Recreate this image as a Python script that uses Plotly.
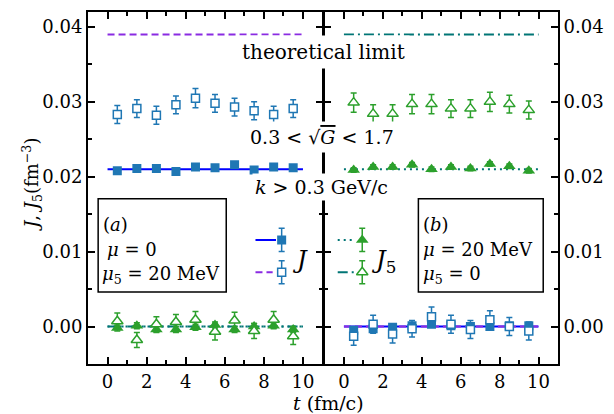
import plotly.graph_objects as go

# ---------------- data ----------------
t = [0.5, 1.5, 2.5, 3.5, 4.5, 5.5, 6.5, 7.5, 8.5, 9.5]
t_line = [0, 10]

# panel (a): mu = 0, mu5 = 20 MeV
J_open_a = [0.0283, 0.0291, 0.0282, 0.0296, 0.0305, 0.0298, 0.0293, 0.0288, 0.0283, 0.0291]
J_open_a_err = [0.0012, 0.0012, 0.0012, 0.0012, 0.0013, 0.0012, 0.0012, 0.0012, 0.0011, 0.0012]
J_fill_a = [0.0208, 0.0211, 0.0211, 0.0207, 0.0213, 0.0212, 0.0216, 0.0209, 0.0213, 0.0212]
J_fill_a_err = [0.0003] * 10
J5_open_a = [0.0007, -0.0018, 0.0003, 0.0006, 0.0009, -0.0007, 0.0008, -0.0006, 0.0009, -0.0013]
J5_open_a_err = [0.0011, 0.0010, 0.0010, 0.0010, 0.0011, 0.0011, 0.0011, 0.0010, 0.0011, 0.0011]
J5_fill_a = [-0.0002, 0.0001, -0.0004, -0.0004, -0.0001, 0.0002, -0.0004, 0.0000, 0.0001, -0.0004]
J5_fill_a_err = [0.0004] * 10

# panel (b): mu = 20 MeV, mu5 = 0
J5_open_b = [0.0299, 0.0284, 0.0284, 0.0297, 0.0297, 0.0291, 0.0291, 0.0300, 0.0297, 0.0289]
J5_open_b_err = [0.0013, 0.0012, 0.0012, 0.0013, 0.0013, 0.0012, 0.0012, 0.0013, 0.0012, 0.0012]
J5_fill_b = [0.0209, 0.0213, 0.0213, 0.0216, 0.0210, 0.0213, 0.0211, 0.0217, 0.0214, 0.0208]
J5_fill_b_err = [0.0003] * 10
J_open_b = [-0.0013, 0.0003, -0.0010, -0.0003, 0.0013, 0.0003, -0.0004, 0.0009, 0.0000, -0.0006]
J_open_b_err = [0.0012, 0.0012, 0.0012, 0.0011, 0.0013, 0.0012, 0.0012, 0.0012, 0.0012, 0.0012]
J_fill_b = [-0.0005, -0.0003, -0.0001, 0.0001, 0.0003, 0.0001, 0.0000, 0.0000, 0.0001, 0.0001]
J_fill_b_err = [0.0004] * 10

limit = 0.039
J_mean = 0.021
zero = 0.0

# ---------------- styles ----------------
BLUE = "#1f77b4"
GREEN = "#2ca02c"
LBLUE = "#0000ff"
PURPLE = "#8a2be2"
TEAL = "#007575"
FONT = "DejaVu Serif"

fig = go.Figure()


def hline(y, color, dash, xa, ya, x=t_line):
    fig.add_trace(go.Scatter(x=x, y=[y, y], mode="lines",
                             line=dict(color=color, width=2, dash=dash),
                             xaxis=xa, yaxis=ya, showlegend=False, hoverinfo="skip"))


def pts(x, y, err, symbol, color, filled, xa, ya, size):
    marker = dict(symbol=symbol, size=size,
                  color=color if filled else "white",
                  line=dict(color=color, width=0 if filled else 1.5))
    fig.add_trace(go.Scatter(x=x, y=y, mode="markers", marker=marker,
                             error_y=dict(type="data", array=err, color=color,
                                          thickness=1.5, width=3),
                             xaxis=xa, yaxis=ya, showlegend=False))


DASH = "7px,4px"
DASHDOT = "10px,4px,2px,4px"
DOT = "2px,4px"

# panel (a)
hline(limit, PURPLE, DASH, "x", "y")
hline(J_mean, LBLUE, "solid", "x", "y")
hline(zero, TEAL, DOT, "x", "y")
hline(zero, TEAL, DASHDOT, "x", "y")
pts(t, J_fill_a, J_fill_a_err, "square", BLUE, True, "x", "y", 9)
pts(t, J_open_a, J_open_a_err, "square", BLUE, False, "x", "y", 8)
pts(t, J5_fill_a, J5_fill_a_err, "triangle-up", GREEN, True, "x", "y", 11)
pts(t, J5_open_a, J5_open_a_err, "triangle-up", GREEN, False, "x", "y", 10)

# panel (b)
hline(limit, TEAL, DASHDOT, "x2", "y2")
hline(J_mean, TEAL, DOT, "x2", "y2")
hline(zero, LBLUE, "solid", "x2", "y2")
hline(zero, PURPLE, DASH, "x2", "y2")
pts(t, J5_fill_b, J5_fill_b_err, "triangle-up", GREEN, True, "x2", "y2", 11)
pts(t, J5_open_b, J5_open_b_err, "triangle-up", GREEN, False, "x2", "y2", 10)
pts(t, J_fill_b, J_fill_b_err, "square", BLUE, True, "x2", "y2", 9)
pts(t, J_open_b, J_open_b_err, "square", BLUE, False, "x2", "y2", 8)

# legend keys (drawn as traces)
key_err = [0.00155]
hline(0.01156, LBLUE, "solid", "x", "y", x=[7.57, 8.62])
hline(0.00725, PURPLE, DASH, "x", "y", x=[7.57, 8.45])
pts([8.91], [0.01156], key_err, "square", BLUE, True, "x", "y", 9)
pts([8.91], [0.00725], key_err, "square", BLUE, False, "x", "y", 8)
hline(0.01156, TEAL, DOT, "x2", "y2", x=[-0.32, 0.6])
hline(0.00725, TEAL, DASHDOT, "x2", "y2", x=[-0.32, 0.6])
pts([0.94], [0.01156], key_err, "triangle-up", GREEN, True, "x2", "y2", 11)
pts([0.94], [0.00725], key_err, "triangle-up", GREEN, False, "x2", "y2", 10)

# ---------------- axes ----------------
tickfont = dict(family=FONT, size=18, color="black")
common = dict(showline=True, linecolor="black", linewidth=2, mirror="ticks",
              ticks="inside", ticklen=7, tickwidth=1.5, tickcolor="black",
              showgrid=False, zeroline=False, tickfont=tickfont)
xcommon = dict(common, range=[-1, 11], tick0=0, dtick=2,
               minor=dict(ticks="inside", ticklen=4, tickwidth=1.5, tickcolor="black",
                          tick0=0, dtick=1, showgrid=False))
ycommon = dict(common, range=[-0.005, 0.042], tick0=0, dtick=0.01, tickformat=".2f",
               minor=dict(ticks="inside", ticklen=4, tickwidth=1.5, tickcolor="black",
                          tick0=0, dtick=0.005, showgrid=False))

fig.update_layout(
    width=614, height=414,
    margin=dict(l=88, r=49, t=10, b=50),
    paper_bgcolor="white", plot_bgcolor="white",
    font=dict(family=FONT, size=18, color="black"),
    xaxis=dict(xcommon, domain=[0, 238 / 477], anchor="y"),
    xaxis2=dict(xcommon, domain=[240 / 477, 1], anchor="y2"),
    yaxis=dict(ycommon, anchor="x", side="left"),
    yaxis2=dict(ycommon, anchor="x2", side="right"),
    showlegend=False,
)

# ---------------- text ----------------
def ann(text, x, y, size=18, xanchor="center", yanchor="middle", **kw):
    fig.add_annotation(text=text, x=x, y=y, xref="paper", yref="paper",
                       xanchor=xanchor, yanchor=yanchor, showarrow=False,
                       font=dict(family=FONT, size=size, color="black"), **kw)


def px_x(px):
    return (px - 88) / 477.0


def px_y(py):
    return (364 - py) / 354.0


ann("theoretical limit", px_x(327), px_y(50), size=20, bgcolor="white", borderpad=4)
ann("0.3 &lt; √<span style='text-decoration:overline'><i>G</i></span> &lt; 1.7",
    px_x(325), px_y(136), size=19, bgcolor="white", borderpad=4)
ann("<i>k</i> &gt; 0.3 GeV/c", px_x(325), px_y(186), size=19, bgcolor="white", borderpad=2)

# boxes
for x0, x1 in [(98.3, 228.3), (423.3, 550)]:
    fig.add_shape(type="rect", xref="paper", yref="paper",
                  x0=px_x(x0), x1=px_x(x1), y0=px_y(291.7), y1=px_y(197.7),
                  line=dict(color="black", width=1.5), fillcolor="rgba(0,0,0,0)")

ann("(<i>a</i>)", px_x(101), px_y(224), xanchor="left")
ann("<i>μ</i> = 0", px_x(105), px_y(249), xanchor="left")
ann("<i>μ</i><sub>5</sub> = 20 MeV", px_x(100), px_y(274), xanchor="left")
ann("(<i>b</i>)", px_x(426), px_y(224), xanchor="left")
ann("<i>μ</i> = 20 MeV", px_x(426), px_y(249), xanchor="left")
ann("<i>μ</i><sub>5</sub> = 0", px_x(426), px_y(274), xanchor="left")

ann("<i>J</i>", px_x(303), px_y(259), size=24)
ann("<i>J</i><sub>5</sub>", px_x(388), px_y(261), size=24)

# axis titles
ann("<i>t</i> (fm/c)", px_x(332), px_y(403), size=19)
ann("<i>J</i>, <i>J</i><sub>5</sub>(fm<sup>−3</sup>)", px_x(31), px_y(184), size=18, textangle=-90)

fig.write_html("out.html", config={"displayModeBar": False},
               post_script="document.body.style.margin='0px';")
